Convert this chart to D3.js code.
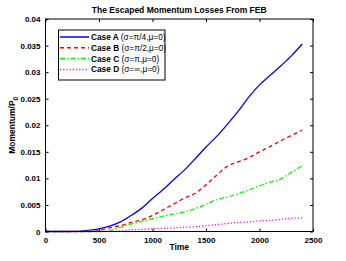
<!DOCTYPE html>
<html><head><meta charset="utf-8">
<script src="https://cdn.jsdelivr.net/npm/d3@7"></script>
<style>body{margin:0;background:#fff}svg{display:block}text{font-family:"Liberation Sans",Arial,sans-serif;font-weight:bold}</style>
</head><body>
<script>
const times = [0,100,200,300,400,500,600,700,800,900,1000,1100,1200,1300,1400,1500,1600,1700,1800,1900,2000,2100,2200,2300,2400];
const caseA = [0,0,0,0.00003,0.0002,0.0005,0.0010,0.0018,0.0030,0.0044,0.0062,0.0079,0.0098,0.0116,0.0137,0.0159,0.0179,0.0202,0.0226,0.0253,0.0276,0.0294,0.0312,0.0331,0.0353];
const caseB = [0,0,0,0,0,0.0002,0.0007,0.0011,0.0017,0.0022,0.0030,0.0041,0.0052,0.0063,0.0072,0.0088,0.0106,0.0123,0.0131,0.0139,0.0150,0.0160,0.0171,0.0181,0.0191];
const caseC = [0,0,0,0,0,0,0.0002,0.0008,0.0014,0.0019,0.0024,0.0029,0.0033,0.0037,0.0043,0.0051,0.0060,0.0065,0.0071,0.0078,0.0086,0.0093,0.0099,0.0112,0.0124];
const caseD = [0,0,0,0,0,0,0.00005,0.0001,0.0003,0.0004,0.0005,0.0006,0.0007,0.0008,0.0009,0.0011,0.0013,0.0015,0.0017,0.0018,0.0020,0.0021,0.0023,0.0025,0.0026];
const seriesNames = ["Case A (σ=π/4,μ=0)","Case B (σ=π/2,μ=0)","Case C (σ=π,μ=0)","Case D (σ=∞,μ=0)"];
const xTicks = [0,500,1000,1500,2000,2500];
const yTicks = [0,0.005,0.01,0.015,0.02,0.025,0.03,0.035,0.04];
const yTickLabels = ["0","0.005","0.01","0.015","0.02","0.025","0.03","0.035","0.04"];

const W=346,H=261;
const L=45.5,R=313,T=19,B=231.5;
const svg=d3.select("body").append("svg").attr("width",W).attr("height",H);
const x=d3.scaleLinear().domain([0,2500]).range([L,R]);
const y=d3.scaleLinear().domain([0,0.04]).range([B,T]);

const styles=[
 {color:"#0000ff",dash:null},
 {color:"#ff0000",dash:"4,3"},
 {color:"#00ff00",dash:"5,2,1.5,2"},
 {color:"#ff00ff",dash:"1.2,2"}
];
const allData=[caseA,caseB,caseC,caseD];
const line=d3.line().x((d,i)=>x(times[i])).y(d=>y(d)).curve(d3.curveMonotoneX);
const g=svg.append("g");
allData.forEach((s,k)=>{
  g.append("path").datum(s).attr("d",line).attr("fill","none")
   .attr("stroke",styles[k].color).attr("stroke-width",1.3)
   .attr("stroke-dasharray",styles[k].dash);
});

// frame
svg.append("rect").attr("x",L).attr("y",T).attr("width",R-L).attr("height",B-T)
  .attr("fill","none").attr("stroke","#000").attr("stroke-width",1);

const tl=3;
const xb=svg.append("g").attr("transform",`translate(0,${B})`)
  .call(d3.axisBottom(x).tickValues(xTicks).tickSizeInner(-tl).tickSizeOuter(0).tickPadding(6).tickFormat(d3.format("d")));
const xt=svg.append("g").attr("transform",`translate(0,${T})`)
  .call(d3.axisTop(x).tickValues(xTicks).tickSizeInner(-tl).tickSizeOuter(0).tickFormat(""));
const yl=svg.append("g").attr("transform",`translate(${L},0)`)
  .call(d3.axisLeft(y).tickValues(yTicks).tickSizeInner(-tl).tickSizeOuter(0).tickPadding(5).tickFormat((d,i)=>yTickLabels[i]));
const yr=svg.append("g").attr("transform",`translate(${R},0)`)
  .call(d3.axisRight(y).tickValues(yTicks).tickSizeInner(-tl).tickSizeOuter(0).tickFormat(""));
[xb,xt,yl,yr].forEach(a=>{a.select(".domain").remove();a.selectAll("line").attr("stroke","#000");a.selectAll("text").attr("font-size",8).attr("fill","#000").attr("font-family","Liberation Sans, Arial, sans-serif").attr("font-weight","bold");});

svg.append("text").attr("x",(L+R)/2).attr("y",13).attr("text-anchor","middle").attr("font-size",8.5).text("The Escaped Momentum Losses From FEB");
svg.append("text").attr("x",(L+R)/2).attr("y",250).attr("text-anchor","middle").attr("font-size",8.5).text("Time");
const yt=svg.append("text").attr("transform",`translate(15,${(T+B)/2}) rotate(-90)`).attr("text-anchor","middle").attr("font-size",8.5);
yt.append("tspan").text("Momentum/P");
yt.append("tspan").attr("font-size",6.5).attr("dy",3).text("0");

const lg=svg.append("g");
lg.append("rect").attr("x",58.5).attr("y",30).attr("width",106.5).attr("height",50).attr("fill","#fff").attr("stroke","#000").attr("stroke-width",1);
seriesNames.forEach((n,k)=>{
  const yy=37+k*10.8;
  lg.append("line").attr("x1",60).attr("x2",89).attr("y1",yy).attr("y2",yy).attr("stroke",styles[k].color).attr("stroke-width",1.5).attr("stroke-dasharray",styles[k].dash);
  const t=lg.append("text").attr("x",91).attr("y",yy+3).attr("font-size",8.3);
  const parts=n.split(" (");
  t.append("tspan").text(parts[0]+" ");
  t.append("tspan").attr("font-weight","normal").text("("+parts[1]);
});
</script>
</body></html>
